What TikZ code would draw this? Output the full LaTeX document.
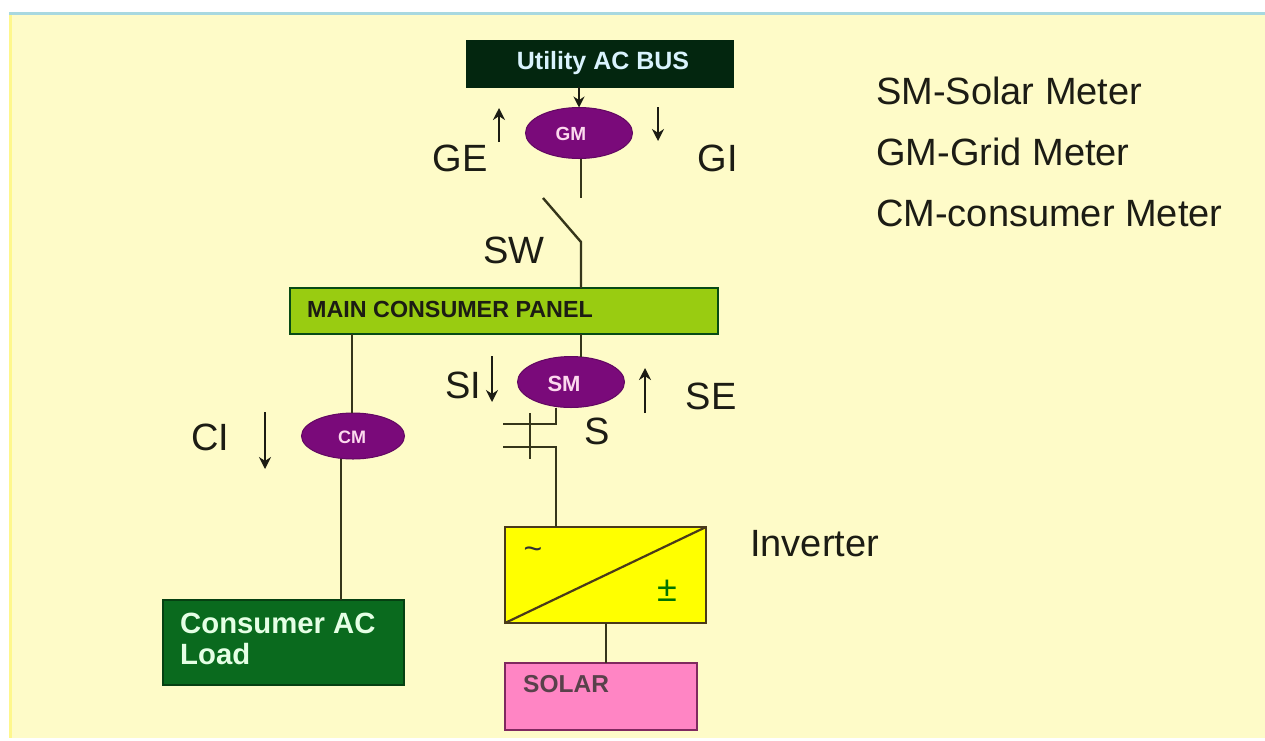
\documentclass[tikz,border=0pt]{standalone}
\usepackage{fontspec}
\setmainfont{Liberation Sans}
\usetikzlibrary{shapes.geometric,arrows.meta}
\definecolor{bgcream}{HTML}{FEFBC8}
\definecolor{topblue}{HTML}{A8D8E0}
\definecolor{wirecol}{HTML}{35351A}
\definecolor{meter}{HTML}{7A0A7A}
\definecolor{busdark}{HTML}{03260F}
\definecolor{panelgreen}{HTML}{99CC11}
\definecolor{loadgreen}{HTML}{0A6A1E}
\definecolor{invyellow}{HTML}{FFFF00}
\definecolor{solarpink}{HTML}{FF85C4}
\definecolor{boxedge}{HTML}{4A3A1A}
\definecolor{ink}{HTML}{1C1C14}
\newcommand{\fs}[1]{\fontsize{#1}{#1}\selectfont}
\tikzset{
  x=1pt,y=-1pt,
  wire/.style={draw=wirecol,line width=2.4pt},
  flow/.style={draw=ink,line width=2pt,-{Stealth[length=12pt,width=12pt]}},
  meternode/.style={ellipse,fill=meter,draw=meter!80!black,line width=1pt,inner sep=0pt,outer sep=0pt},
  metertxt/.style={text=white!85!magenta,inner sep=0pt},
  boxnode/.style={rectangle,draw=boxedge,line width=2pt,inner sep=0pt,outer sep=0pt,anchor=north west},
  lbl/.style={text=ink,font=\fs{38},inner sep=0pt},
  legend/.style={text=ink,font=\fs{38},inner sep=0pt,anchor=west},
}
\begin{document}
\begin{tikzpicture}
\useasboundingbox (0,0) rectangle (1265,740);
\fill[white] (0,0) rectangle (1265,740);
\fill[bgcream] (9,13) rectangle (1265,738);
\fill[yellow!30!bgcream] (9,13) rectangle (12,738);
\fill[topblue] (9,12) rectangle (1265,14.5);

% boxes
\node[boxnode,fill=busdark,draw=busdark,minimum width=266pt,minimum height=46pt] (bus) at (467,40.5) {};
\node[text=white!85!cyan,font=\bfseries\fs{25},inner sep=0pt] (bustxt) at (603,63) {Utility AC BUS};
\node[boxnode,fill=panelgreen,draw=loadgreen!70!black,minimum width=428pt,minimum height=46pt] (panel) at (290,288) {};
\node[font=\bfseries\fs{23.3},text=ink,inner sep=0pt,anchor=west] (paneltxt) at (307,309) {MAIN CONSUMER PANEL};
\node[boxnode,fill=loadgreen,draw=loadgreen!60!black,minimum width=241pt,minimum height=85pt] (load) at (163,600) {};
\node[font=\bfseries\fs{29.3},text=white!90!green,inner sep=0pt,align=left,anchor=north west] (loadtxt) at (180,613) {Consumer AC\\[2pt]Load};
\node[boxnode,fill=invyellow,minimum width=201pt,minimum height=96pt] (inv) at (505,527) {};
\node[boxnode,fill=solarpink,draw=boxedge!70!magenta,minimum width=192pt,minimum height=67pt] (solar) at (504.5,663) {};
\node[font=\bfseries\fs{24.5},text=black!75!magenta,inner sep=0pt,anchor=west] (solartxt) at (523,684) {SOLAR};

% meters
\node[meternode,minimum width=107pt,minimum height=51pt] (gm) at (579,133) {};
\node[metertxt,font=\bfseries\fs{19}] (gmtxt) at (571,134) {GM};
\node[meternode,minimum width=107pt,minimum height=51pt] (sm) at (571,382) {};
\node[metertxt,font=\bfseries\fs{22}] (smtxt) at (564,384) {SM};
\node[meternode,minimum width=103pt,minimum height=46pt] (cm) at (353,436) {};
\node[metertxt,font=\bfseries\fs{18}] (cmtxt) at (352,437) {CM};

% inverter details
\draw[boxedge,line width=2.2pt] (inv.south west) -- (inv.north east);
\node[font=\fs{32},text=black!80,inner sep=0pt] (invac) at (533,553) {\textasciitilde};
\node[font=\fs{36},text=green!45!black,inner sep=0pt] (invdc) at (667,591) {±};

% free-end coordinates
\coordinate (gmend) at (581,198);
\coordinate (swtop) at (543,198);
\coordinate (swknee) at (581,242);
\coordinate (cap1a) at (503,424);
\coordinate (cap1b) at (556,424);
\coordinate (cap2a) at (503,447);
\coordinate (cap2b) at (556,447);
\coordinate (capt) at (530,413);
\coordinate (capm) at (530,459);

% connectors
\draw[draw=ink,line width=2pt,-{Stealth[length=11pt,width=11pt]}] (bus.south -| 579,0) -- (gm.north);
\draw[wire] (gm.south -| gmend) -- (gmend);
\draw[wire] (swtop) -- (swknee) -- (swknee |- panel.north);
\draw[wire] (panel.south -| 581,0) -- (sm.north -| 581,0);
\draw[wire] (panel.south -| 352,0) -- (cm.north -| 352,0);
\draw[wire] (cm.south -| 341,0) -- (load.north -| 341,0);
\draw[wire] (sm.south -| cap1b) -- (cap1b) -- (cap1a);
\draw[wire] (capt) -- (capm);
\draw[wire] (cap2a) -- (cap2b) -- (inv.north -| cap2b);
\draw[wire] (inv.south -| 606,0) -- (solar.north -| 606,0);

% arrows
\coordinate (a1s) at (499,142); \coordinate (a1e) at (499,108);
\coordinate (a2s) at (658,107); \coordinate (a2e) at (658,141);
\coordinate (a3s) at (492,356); \coordinate (a3e) at (492,402);
\coordinate (a4s) at (645,413); \coordinate (a4e) at (645,368);
\coordinate (a5s) at (265,412); \coordinate (a5e) at (265,469);
\draw[flow] (a1s) -- (a1e);
\draw[flow] (a2s) -- (a2e);
\draw[flow] (a3s) -- (a3e);
\draw[flow] (a4s) -- (a4e);
\draw[flow] (a5s) -- (a5e);

% labels
\node[lbl] (ge) at (460,158) {GE};
\node[lbl] (gi) at (718,158) {GI};
\node[lbl] (sw) at (514,250) {SW};
\node[lbl] (si) at (463,385) {SI};
\node[lbl] (se) at (711,396) {SE};
\node[lbl] (s) at (597,431) {S};
\node[lbl] (ci) at (210,437) {CI};
\node[lbl,anchor=west] (invl) at (750,544) {Inverter};
\node[legend] (l1) at (876,91) {SM-Solar Meter};
\node[legend] (l2) at (876,152) {GM-Grid Meter};
\node[legend] (l3) at (876,213) {CM-consumer Meter};
\end{tikzpicture}
\end{document}
